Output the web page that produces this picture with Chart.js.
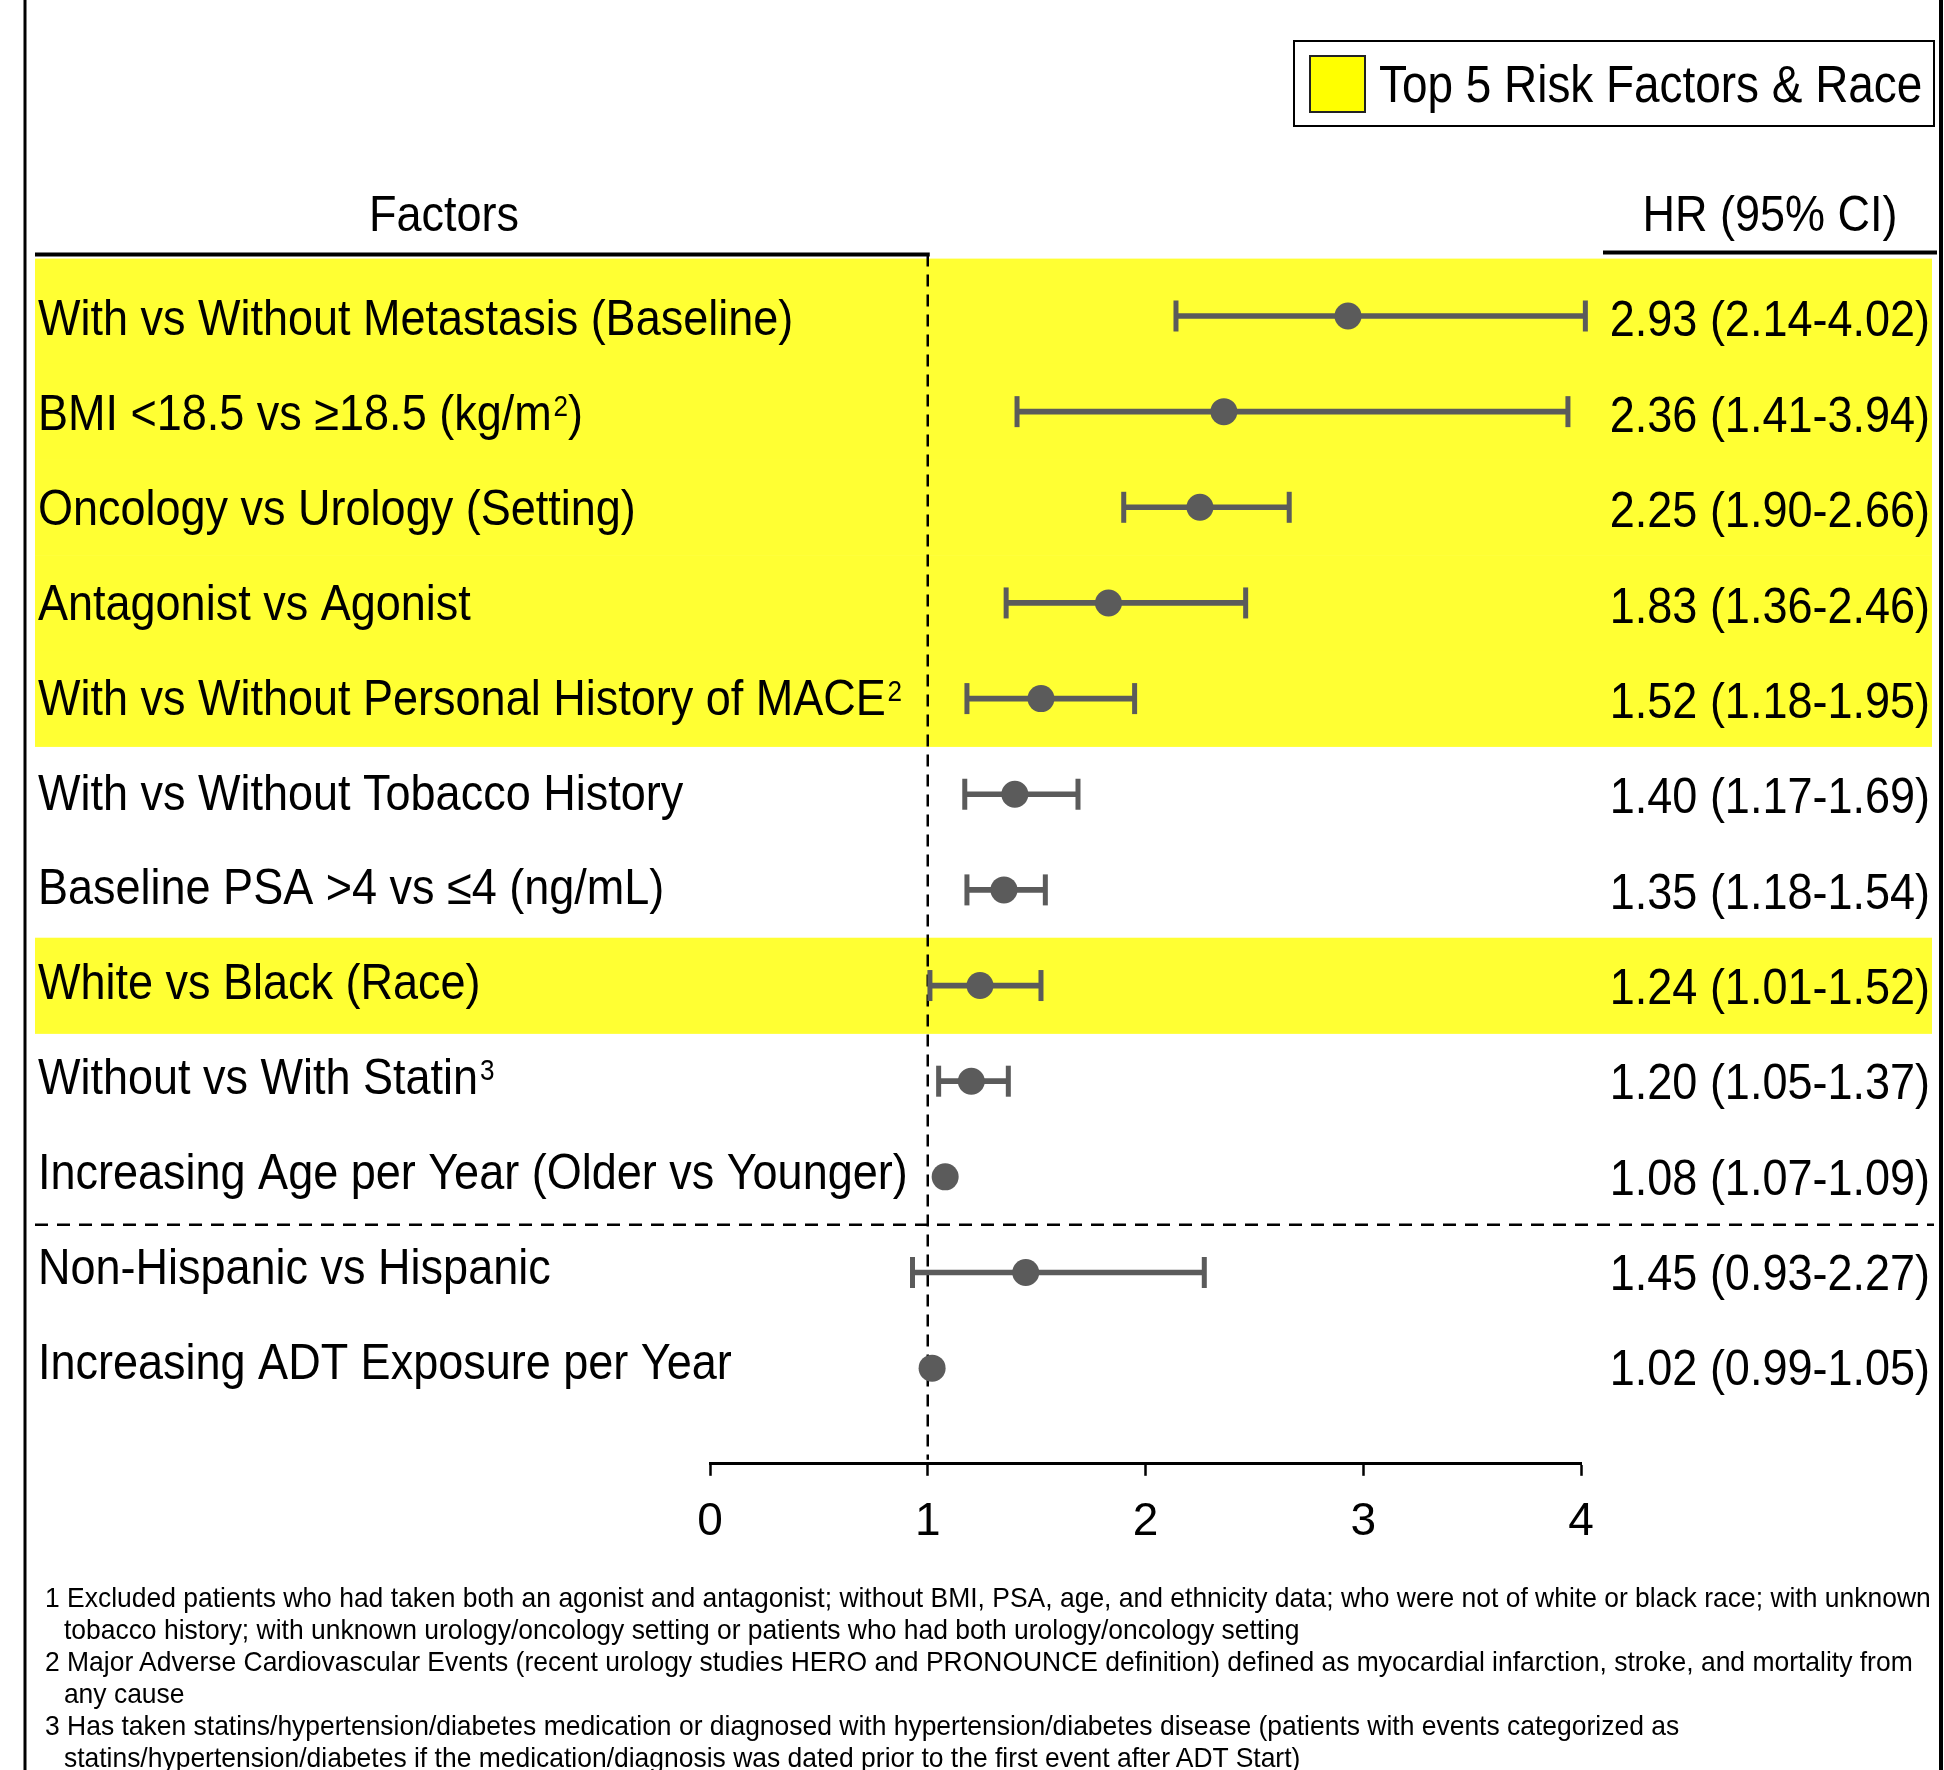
<!DOCTYPE html>
<html>
<head>
<meta charset="utf-8">
<script src="https://cdn.jsdelivr.net/npm/chart.js@4"></script>
<style>
  html, body { margin: 0; padding: 0; background: #fff; }
  #wrap { position: absolute; left: 0; top: 0; width: 1944px; height: 1770px; overflow: hidden; }
  #notes {
    position: absolute; left: 45px; top: 1582px;
    font-family: "Liberation Sans", Arial, sans-serif; font-size: 28px; line-height: 32px;
    color: #000; transform: scaleX(0.945); transform-origin: left top; white-space: nowrap;
  }
  #notes .ind { padding-left: 20px; }
</style>
</head>
<body>
<div id="wrap">
  <canvas id="forest"></canvas>
  <div id="notes">
    <div>1 Excluded patients who had taken both an agonist and antagonist; without BMI, PSA, age, and ethnicity data; who were not of white or black race; with unknown</div>
    <div class="ind">tobacco history; with unknown urology/oncology setting or patients who had both urology/oncology setting</div>
    <div>2 Major Adverse Cardiovascular Events (recent urology studies HERO and PRONOUNCE definition) defined as myocardial infarction, stroke, and mortality from</div>
    <div class="ind">any cause</div>
    <div>3 Has taken statins/hypertension/diabetes medication or diagnosed with hypertension/diabetes disease (patients with events categorized as</div>
    <div class="ind">statins/hypertension/diabetes if the medication/diagnosis was dated prior to the first event after ADT Start)</div>
  </div>
</div>
<script>
/* forest plot — hazard ratios, top 5 risk factors & race highlighted */

const factorLabels = [
  'With vs Without Metastasis (Baseline)',
  'BMI <18.5 vs \u226518.5 (kg/m\u00b2)',
  'Oncology vs Urology (Setting)',
  'Antagonist vs Agonist',
  'With vs Without Personal History of MACE\u00b2',
  'With vs Without Tobacco History',
  'Baseline PSA >4 vs \u22644 (ng/mL)',
  'White vs Black (Race)',
  'Without vs With Statin\u00b3',
  'Increasing Age per Year (Older vs Younger)',
  'Non-Hispanic vs Hispanic',
  'Increasing ADT Exposure per Year'
];
const hrValues = [2.93, 2.36, 2.25, 1.83, 1.52, 1.40, 1.35, 1.24, 1.20, 1.08, 1.45, 1.02];
const ciLower  = [2.14, 1.41, 1.90, 1.36, 1.18, 1.17, 1.18, 1.01, 1.05, 1.07, 0.93, 0.99];
const ciUpper  = [4.02, 3.94, 2.66, 2.46, 1.95, 1.69, 1.54, 1.52, 1.37, 1.09, 2.27, 1.05];
const highlighted = [0, 1, 2, 3, 4, 7];
const separatorAfter = 9;          // dashed line between row 9 and row 10
const xTicks = [0, 1, 2, 3, 4];
const refLine = 1;
const legendLabel = 'Top 5 Risk Factors & Race';
const colHeaders = ['Factors', 'HR (95% CI)'];

const FONT = '"Liberation Sans", Arial, sans-serif';
const SX = 0.9;                    // source text is a bit condensed
const YEL = '#ffff33';
const MARK = '#5b5b5b';
const SUP = { '\u00b2': '2', '\u00b3': '3' };

const fmt2 = v => v.toFixed(2);
const hrText = hrValues.map((h, i) => `${fmt2(h)} (${fmt2(ciLower[i])}-${fmt2(ciUpper[i])})`);

// text with y = middle of capitals, superscript digits drawn small & raised
function txt(ctx, s, x, y, size, align) {
  const runs = [];
  for (const ch of s) {
    const sup = !!SUP[ch];
    const c = sup ? SUP[ch] : ch;
    const last = runs[runs.length - 1];
    if (last && last.sup === sup) last.t += c; else runs.push({ t: c, sup });
  }
  ctx.save();
  ctx.fillStyle = '#000';
  ctx.textBaseline = 'alphabetic';
  ctx.textAlign = 'left';
  const supSize = size * 0.58;
  let w = 0;
  runs.forEach(r => {
    ctx.font = `${r.sup ? supSize : size}px ${FONT}`;
    r.w = ctx.measureText(r.t).width + (r.sup ? size * 0.04 : 0);
    w += r.w;
  });
  w *= SX;
  const x0 = align === 'center' ? x - w / 2 : align === 'right' ? x - w : x;
  ctx.translate(x0, y + size * 0.36);
  ctx.scale(SX, 1);
  let cx = 0;
  runs.forEach(r => {
    if (r.sup) {
      ctx.font = `${supSize}px ${FONT}`;
      ctx.fillText(r.t, cx + size * 0.04, -size * 0.28);
    } else {
      ctx.font = `${size}px ${FONT}`;
      ctx.fillText(r.t, cx, 0);
    }
    cx += r.w;
  });
  ctx.restore();
}

function hline(ctx, x1, x2, y, w, dash) {
  ctx.save();
  ctx.strokeStyle = '#000'; ctx.lineWidth = w;
  ctx.setLineDash(dash || []);
  ctx.beginPath(); ctx.moveTo(x1, y); ctx.lineTo(x2, y); ctx.stroke();
  ctx.restore();
}
function vline(ctx, x, y1, y2, w, dash) {
  ctx.save();
  ctx.strokeStyle = '#000'; ctx.lineWidth = w;
  ctx.setLineDash(dash || []);
  ctx.beginPath(); ctx.moveTo(x, y1); ctx.lineTo(x, y2); ctx.stroke();
  ctx.restore();
}

const forestDecor = {
  id: 'forestDecor',
  beforeDraw(chart) {
    const { ctx, scales: { y }, chartArea: ca } = chart;
    ctx.save();
    ctx.fillStyle = '#fff';
    ctx.fillRect(0, 0, chart.width, chart.height);
    // highlight bands
    ctx.fillStyle = YEL;
    highlighted.forEach(i => {
      const top = i === 0 ? ca.top : y.getPixelForValue(i - 0.5);
      const bot = y.getPixelForValue(i + 0.5);
      ctx.fillRect(35, top, 1932 - 35, bot - top + 0.5);
    });
    ctx.restore();
    // page frame
    vline(ctx, 25, 0, chart.height, 3);
    vline(ctx, 1941, 0, chart.height, 4);
  },
  beforeDatasetsDraw(chart) {
    const { ctx, scales: { x, y }, chartArea: ca } = chart;
    const x1 = x.getPixelForValue(refLine);
    vline(ctx, x1, ca.top - 4, ca.bottom - 4, 2.5, [12, 8]);
    hline(ctx, 35, 1934, y.getPixelForValue(separatorAfter + 0.5), 2.5, [13, 9]);
    // header rules
    hline(ctx, 35, x1 + 2, ca.top - 4, 4);
    hline(ctx, 1603, 1937, ca.top - 6, 4);
  },
  afterDraw(chart) {
    const { ctx, scales: { y } } = chart;
    factorLabels.forEach((s, i) => txt(ctx, s, 38, y.getPixelForValue(i) + 1.4 - 0.8 * i, 50, 'left'));
    hrText.forEach((s, i) => txt(ctx, s, 1930, y.getPixelForValue(i) + 2.5 - 0.3 * i, 50, 'right'));
    txt(ctx, colHeaders[0], 444, 212.5, 50, 'center');
    txt(ctx, colHeaders[1], 1770, 212.5, 50, 'center');
    // legend
    ctx.save();
    ctx.strokeStyle = '#000'; ctx.lineWidth = 2;
    ctx.strokeRect(1294, 41, 640, 85);
    ctx.fillStyle = '#ffff00';
    ctx.fillRect(1310, 56, 55, 56);
    ctx.strokeStyle = '#222'; ctx.lineWidth = 2;
    ctx.strokeRect(1310, 56, 55, 56);
    ctx.restore();
    txt(ctx, legendLabel, 1379, 84, 51, 'left');
  }
};

const rows = factorLabels.map((_, i) => i);

new Chart(document.getElementById('forest'), {
  type: 'scatter',
  data: {
    datasets: [
      {
        label: 'HR',
        data: rows.map(i => ({ x: hrValues[i], y: i })),
        pointRadius: 13.5,
        pointBackgroundColor: MARK,
        pointBorderWidth: 0,
        clip: false,
        order: 0
      },
      {
        label: 'CI caps',
        data: rows.flatMap(i => [{ x: ciLower[i], y: i }, { x: ciUpper[i], y: i }]),
        pointStyle: 'line',
        rotation: 90,
        pointRadius: c => {
          const i = Math.floor(c.dataIndex / 2);
          return (ciUpper[i] - ciLower[i]) < 0.13 ? 0 : 15.5;
        },
        borderColor: MARK,
        pointBorderColor: MARK,
        pointBorderWidth: 5,
        clip: false,
        order: 1
      },
      {
        type: 'bar',
        label: '95% CI',
        indexAxis: 'y',
        data: rows.map(i => ({ x: [ciLower[i], ciUpper[i]], y: i })),
        backgroundColor: MARK,
        borderWidth: 0,
        barThickness: 5,
        grouped: false,
        clip: false,
        order: 2
      }
    ]
  },
  options: {
    responsive: true,
    maintainAspectRatio: false,
    animation: false,
    events: [],
    layout: { padding: { left: 710, right: 363, top: 258.6, bottom: 206.2 } },
    plugins: { legend: { display: false }, tooltip: { enabled: false } },
    scales: {
      x: {
        type: 'linear', min: 0, max: 4, beginAtZero: false, offset: false,
        afterBuildTicks: s => { s.ticks = xTicks.map(v => ({ value: v })); },
        afterFit: s => { s.height = 100; },
        grid: { drawOnChartArea: false, drawTicks: true, tickLength: 12, tickWidth: 2.5, tickColor: '#000', offset: false },
        border: { display: true, color: '#000', width: 3 },
        ticks: { color: '#000', font: { family: FONT, size: 46 }, padding: 19, maxRotation: 0 }
      },
      y: {
        type: 'linear', min: -0.6, max: 12, reverse: true, offset: false,
        grid: { offset: false },
        display: false
      }
    }
  },
  plugins: [forestDecor]
});
</script>
</body>
</html>
